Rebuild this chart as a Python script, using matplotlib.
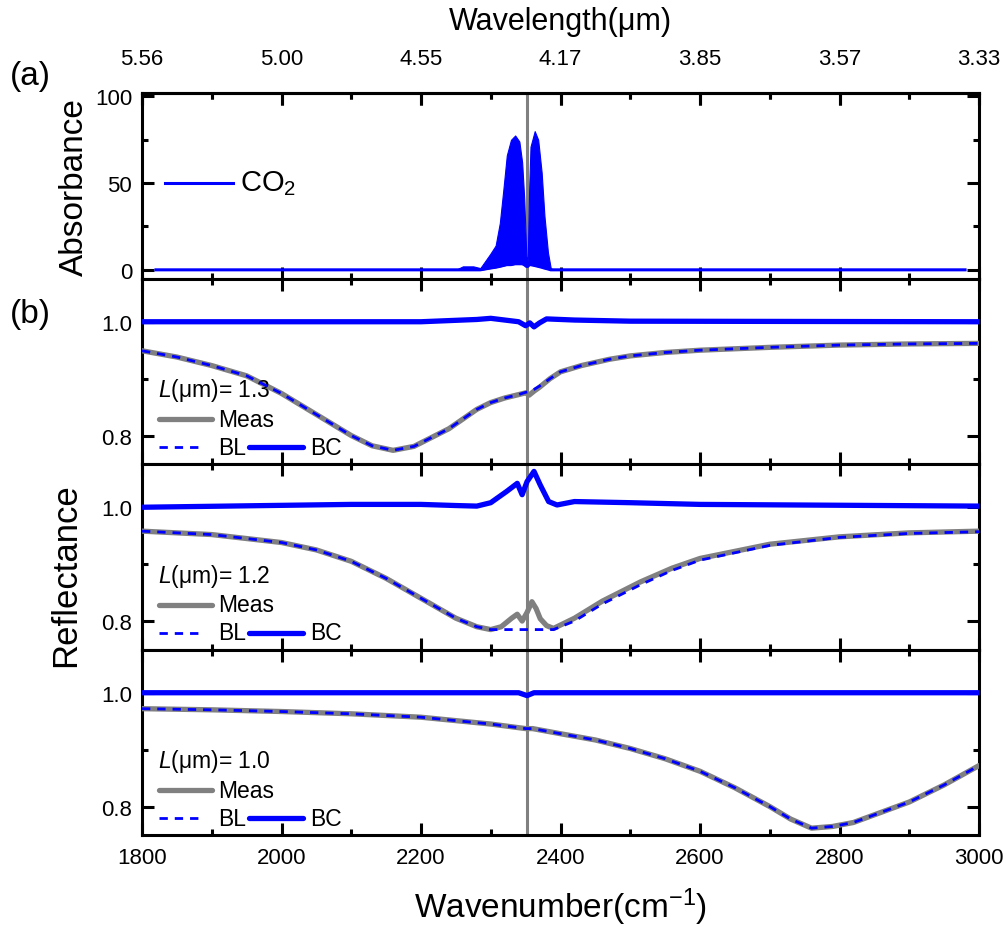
import numpy as np
import matplotlib
matplotlib.use("Agg")
import matplotlib.pyplot as plt
from matplotlib.ticker import MultipleLocator, FixedLocator, FixedFormatter

plt.rcParams['font.family'] = ['Liberation Sans', 'DejaVu Sans']
plt.rcParams['mathtext.fontset'] = 'custom'
plt.rcParams['mathtext.rm'] = 'Liberation Sans'
plt.rcParams['mathtext.it'] = 'Liberation Sans:italic'

BLUE = '#0000FF'
GRAY = '#808080'
CO2_LINE = 2352

# ---- (a) CO2 absorbance band envelope ----
co2_wn = [1820, 2250, 2260, 2275, 2285, 2292, 2299, 2307, 2313, 2318, 2323, 2329, 2335,
          2341, 2345, 2348, 2351, 2353, 2355, 2357, 2363, 2368, 2373, 2377, 2382, 2386,
          2390, 2980]
co2_hi = [0.0, 0.0, 2.0, 2.0, 1.0, 5.0, 9.0, 14.0, 27.0, 46.0, 66.0, 75.0, 77.5,
          74.0, 62.0, 41.0, 8.0, 5.0, 46.0, 71.0, 80.0, 75.0, 56.0, 31.0, 10.0, 1.0,
          0.0, 0.0]
co2_lo = [0.0, 0.0, 0.0, 0.0, 0.0, 0.5, 1.0, 1.5, 2.0, 2.5, 3.0, 3.0, 3.5,
          3.5, 3.5, 3.0, 2.0, 2.0, 3.0, 3.0, 2.5, 2.0, 1.5, 1.0, 0.5, 0.0,
          0.0, 0.0]

# ---- (b) L = 1.3 um ----
wn_13 = [1800, 1850, 1900, 1950, 2000, 2050, 2100, 2130, 2160, 2190, 2240, 2280, 2300,
         2320, 2340, 2350, 2355, 2362, 2370, 2385, 2400, 2430, 2470, 2500, 2550, 2600,
         2700, 2800, 2900, 3000]
meas_13 = [0.949, 0.938, 0.923, 0.905, 0.874, 0.837, 0.800, 0.782, 0.774, 0.781, 0.812,
           0.846, 0.858, 0.866, 0.872, 0.875, 0.871, 0.878, 0.885, 0.900, 0.912, 0.923,
           0.934, 0.940, 0.946, 0.950, 0.955, 0.959, 0.961, 0.962]
bl_13 = [0.949, 0.938, 0.923, 0.905, 0.874, 0.837, 0.800, 0.782, 0.774, 0.781, 0.812,
         0.846, 0.858, 0.866, 0.872, 0.876, 0.877, 0.881, 0.887, 0.900, 0.912, 0.923,
         0.934, 0.940, 0.946, 0.950, 0.955, 0.959, 0.961, 0.962]
bc_wn_13 = [1800, 2000, 2200, 2280, 2300, 2320, 2340, 2350, 2356, 2362, 2370, 2380, 2420,
            2500, 3000]
bc_13 = [1.000, 1.000, 1.000, 1.004, 1.006, 1.003, 1.000, 0.993, 0.998, 0.991, 0.998,
         1.005, 1.003, 1.001, 1.000]

# ---- (b) L = 1.2 um ----
wn_12 = [1800, 1900, 2000, 2050, 2100, 2150, 2200, 2250, 2280, 2300, 2315, 2330, 2338,
         2345, 2352, 2359, 2365, 2371, 2380, 2390, 2420, 2460, 2515, 2560, 2600, 2700,
         2800, 2900, 3000]
meas_12 = [0.958, 0.952, 0.938, 0.925, 0.905, 0.875, 0.840, 0.805, 0.790, 0.785, 0.790,
           0.805, 0.812, 0.800, 0.815, 0.834, 0.822, 0.804, 0.792, 0.787, 0.805, 0.835,
           0.869, 0.893, 0.910, 0.935, 0.948, 0.955, 0.958]
bl_12 = [0.958, 0.952, 0.938, 0.925, 0.905, 0.875, 0.840, 0.805, 0.790, 0.785, 0.785,
         0.785, 0.785, 0.785, 0.785, 0.785, 0.785, 0.785, 0.785, 0.785, 0.800, 0.830,
         0.864, 0.889, 0.907, 0.933, 0.947, 0.954, 0.957]
bc_wn_12 = [1800, 2100, 2200, 2250, 2280, 2300, 2323, 2338, 2345, 2352, 2362, 2371, 2383,
            2395, 2420, 2500, 2600, 3000]
bc_12 = [1.000, 1.005, 1.005, 1.003, 1.002, 1.008, 1.028, 1.042, 1.022, 1.045, 1.063,
         1.039, 1.010, 1.004, 1.010, 1.008, 1.005, 1.002]

# ---- (b) L = 1.0 um ----
wn_10 = [1800, 1900, 2000, 2100, 2200, 2300, 2350, 2360, 2400, 2450, 2500, 2550, 2600,
         2650, 2700, 2730, 2760, 2790, 2820, 2860, 2900, 2950, 3000]
meas_10 = [0.972, 0.970, 0.967, 0.963, 0.957, 0.945, 0.937, 0.937, 0.928, 0.917, 0.902,
           0.884, 0.862, 0.833, 0.800, 0.778, 0.762, 0.765, 0.772, 0.790, 0.808, 0.838,
           0.872]
bl_10 = meas_10
bc_wn_10 = [1800, 2340, 2352, 2362, 3000]
bc_10 = [1.000, 1.000, 0.995, 1.000, 1.000]

panels = [
    ('1.3', wn_13, meas_13, bl_13, bc_wn_13, bc_13),
    ('1.2', wn_12, meas_12, bl_12, bc_wn_12, bc_12),
    ('1.0', wn_10, meas_10, bl_10, bc_wn_10, bc_10),
]

fig = plt.figure(figsize=(10.06, 9.28), dpi=100)
gs = fig.add_gridspec(4, 1, left=142 / 1006, right=979 / 1006,
                      top=1 - 94 / 928, bottom=1 - 836 / 928, hspace=0)
axes = [fig.add_subplot(gs[i]) for i in range(4)]

TICK_FS = 16
LEG_FS = 16.5


def style(ax):
    for s in ax.spines.values():
        s.set_linewidth(2.2)
    ax.set_xlim(1800, 3000)
    ax.xaxis.set_major_locator(MultipleLocator(200))
    ax.xaxis.set_minor_locator(MultipleLocator(100))
    ax.tick_params(which='both', direction='in', top=True, right=True, width=2.2,
                   labelsize=TICK_FS)
    ax.tick_params(which='major', length=8.5)
    ax.tick_params(which='minor', length=4.5)
    ax.tick_params(axis='y', pad=7)
    ax.axvline(CO2_LINE, color=GRAY, lw=2.2, zorder=1)


# (a)
ax = axes[0]
style(ax)
ax.fill_between(co2_wn, co2_lo, co2_hi, color=BLUE, lw=0.8, zorder=3)
ax.plot(co2_wn, co2_lo, color=BLUE, lw=2.2, zorder=3)
ax.set_ylim(-5, 102)
ax.yaxis.set_major_locator(FixedLocator([0, 50, 100]))
ax.yaxis.set_minor_locator(FixedLocator([25, 75]))
ax.tick_params(axis='x', labelbottom=False)
ax.set_ylabel('Absorbance', fontsize=24, labelpad=4)
ax.plot([0.0275, 0.109], [0.516, 0.516], transform=ax.transAxes, color=BLUE, lw=2.2)
ax.text(0.117, 0.516, 'CO$_2$', transform=ax.transAxes, fontsize=21, va='center', ha='left')

# top wavelength axis
top = ax.secondary_xaxis('top')
top_pos = list(range(1800, 3001, 200))
top.xaxis.set_major_locator(FixedLocator(top_pos))
top.xaxis.set_major_formatter(FixedFormatter([f'{1e4 / w:.2f}' for w in top_pos]))
top.xaxis.set_minor_locator(FixedLocator(list(range(1900, 3000, 200))))
top.tick_params(which='both', direction='in', width=2.2, labelsize=TICK_FS, pad=17)
top.tick_params(which='major', length=8.5)
top.tick_params(which='minor', length=4.5)
top.spines['top'].set_linewidth(2.2)
top.set_xlabel('Wavelength(μm)', fontsize=22, labelpad=14)

# (b)
for ax, (lab, wn, meas, bl, bcw, bc) in zip(axes[1:], panels):
    style(ax)
    ax.plot(wn, meas, color=GRAY, lw=3.8, zorder=3, solid_capstyle='round')
    ax.plot(wn, bl, color=BLUE, lw=2.0, ls=(0, (3, 2.5)), zorder=4)
    ax.plot(bcw, bc, color=BLUE, lw=3.8, zorder=4)
    ax.set_ylim(0.75, 1.076)
    ax.yaxis.set_major_locator(FixedLocator([0.8, 1.0]))
    ax.yaxis.set_major_formatter(FixedFormatter(['0.8', '1.0']))
    ax.yaxis.set_minor_locator(FixedLocator([0.9]))
    # inline legend
    ax.text(0.019, 0.401, f'$L$(μm)= {lab}', transform=ax.transAxes, fontsize=LEG_FS,
            va='center', ha='left')
    ax.plot([0.02, 0.084], [0.242, 0.242], transform=ax.transAxes, color=GRAY, lw=3.8,
            solid_capstyle='round')
    ax.text(0.091, 0.242, 'Meas', transform=ax.transAxes, fontsize=LEG_FS, va='center',
            ha='left')
    ax.plot([0.02, 0.073], [0.091, 0.091], transform=ax.transAxes, color=BLUE, lw=2.0,
            ls=(0, (3, 2.5)))
    ax.text(0.091, 0.091, 'BL', transform=ax.transAxes, fontsize=LEG_FS, va='center',
            ha='left')
    ax.plot([0.128, 0.192], [0.091, 0.091], transform=ax.transAxes, color=BLUE, lw=3.8,
            solid_capstyle='round')
    ax.text(0.201, 0.091, 'BC', transform=ax.transAxes, fontsize=LEG_FS, va='center',
            ha='left')

for ax in axes[1:3]:
    ax.tick_params(axis='x', labelbottom=False)

axes[3].set_xlabel('Wavenumber(cm$^{-1}$)', fontsize=24, labelpad=12)
axes[3].tick_params(axis='x', pad=9)

fig.text(66 / 1006, 1 - 575 / 928, 'Reflectance', rotation=90, fontsize=25,
         ha='center', va='center')
fig.text(10 / 1006, 1 - 77 / 928, '(a)', fontsize=24, ha='left', va='center')
fig.text(10 / 1006, 1 - 315 / 928, '(b)', fontsize=24, ha='left', va='center')

fig.savefig('out.png', dpi=100)
